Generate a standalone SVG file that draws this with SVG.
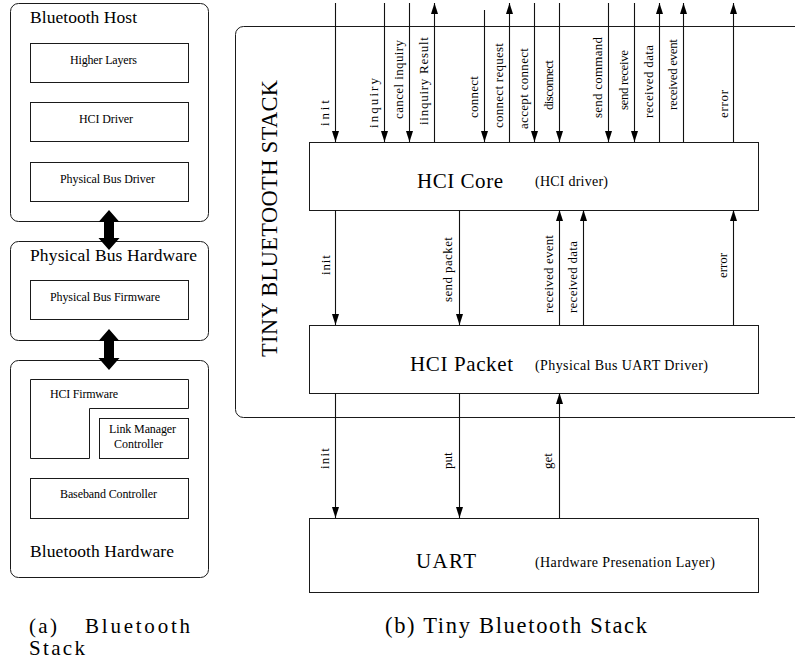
<svg xmlns="http://www.w3.org/2000/svg" width="795" height="662" viewBox="0 0 795 662" font-family="'Liberation Serif', 'Times New Roman', Times, 'DejaVu Serif', serif">
  <style>
    .frame { fill: none; stroke: #1a1a1a; stroke-width: 1; }
    .box { fill: #fff; stroke: #1a1a1a; stroke-width: 1; }
    .wire { fill: none; stroke: #111; stroke-width: 1.1; }
    .t { font-family: 'Liberation Serif', 'Times New Roman', Times, 'DejaVu Serif', serif; fill: #000; }
    .title { font-size: 17.5px; }
    .small { font-size: 12px; }
    .lbl { font-size: 13px; }
    .big { font-size: 21px; }
    .sub { font-size: 14px; }
    .cap { font-size: 21px; }
    .capb { font-size: 22.5px; }
  </style>
  <defs>
    <marker id="head" markerUnits="userSpaceOnUse" markerWidth="11" markerHeight="8" refX="11" refY="4" orient="auto">
      <path d="M0,0.5 L11,4 L0,7.5 z" fill="#000"/>
    </marker>
  </defs>

  <rect width="795" height="662" fill="#fff"/>

  <!-- Left: Bluetooth stack -->
  <g id="bluetooth-host">
    <rect class="frame" x="10.5" y="3.5" width="198" height="218" rx="8"/>
    <text class="t title" x="30" y="23" textLength="107">Bluetooth Host</text>
    <rect class="box" x="30.5" y="43.5" width="158" height="39"/>
    <text class="t small" x="70" y="64" textLength="67">Higher Layers</text>
    <rect class="box" x="30.5" y="102.5" width="158" height="39"/>
    <text class="t small" x="79" y="123" textLength="54">HCI Driver</text>
    <rect class="box" x="30.5" y="162.5" width="158" height="39"/>
    <text class="t small" x="60" y="183" textLength="95">Physical Bus Driver</text>
  </g>

  <g id="physical-bus-hardware">
    <rect class="frame" x="10.5" y="241.5" width="198" height="99" rx="8"/>
    <text class="t title" x="30" y="261" textLength="167">Physical Bus Hardware</text>
    <rect class="box" x="30.5" y="280.5" width="158" height="39"/>
    <text class="t small" x="50" y="301" textLength="110">Physical Bus Firmware</text>
  </g>

  <g id="bluetooth-hardware">
    <rect class="frame" x="10.5" y="360.5" width="198" height="217" rx="8"/>
    <path class="box" d="M30.5,379.5 H188.5 V408.5 H89.5 V458.5 H30.5 Z"/>
    <text class="t small" x="50" y="398" textLength="68">HCI Firmware</text>
    <rect class="box" x="99.5" y="418.5" width="89" height="40"/>
    <text class="t small" x="109" y="433" textLength="67">Link Manager</text>
    <text class="t small" x="114" y="448" textLength="49">Controller</text>
    <rect class="box" x="30.5" y="478.5" width="158" height="40"/>
    <text class="t small" x="60" y="498" textLength="97">Baseband Controller</text>
    <text class="t title" x="30" y="557" textLength="144">Bluetooth Hardware</text>
  </g>

  <!-- thick two-way links between the hardware blocks -->
  <g id="links-left">
    <polygon fill="#000" points="109,210 119.5,222 114,222 114,238 119.5,238 109,250 98.5,238 104,238 104,222 98.5,222"/>
    <polygon fill="#000" points="109,329 119.5,341 114,341 114,358 119.5,358 109,370 98.5,358 104,358 104,341 98.5,341"/>
  </g>

  <!-- Right: Tiny Bluetooth Stack -->
  <g id="tiny-stack">
    <rect class="frame" x="235.5" y="26.5" width="600" height="391" rx="8"/>
    <text class="t" font-size="22.4" transform="translate(277,357) rotate(-90)" textLength="277">TINY BLUETOOTH STACK</text>
  </g>

  <g id="hci-core">
    <rect class="box" x="309.5" y="142.5" width="449" height="68"/>
    <text class="t big" x="417" y="188" textLength="86">HCI Core</text>
    <text class="t sub" x="535" y="186" textLength="73">(HCI driver)</text>
  </g>

  <g id="hci-packet">
    <rect class="box" x="309.5" y="325.5" width="449" height="68"/>
    <text class="t big" x="410" y="371" textLength="103">HCI Packet</text>
    <text class="t sub" x="535" y="370" textLength="173">(Physical Bus UART Driver)</text>
  </g>

  <g id="uart">
    <rect class="box" x="309.5" y="518.5" width="449" height="74"/>
    <text class="t big" x="416" y="568" textLength="60">UART</text>
    <text class="t sub" x="535" y="567" textLength="180">(Hardware Presenation Layer)</text>
  </g>

  <g id="connectors">
    <!-- upper interface of HCI Core -->
    <line class="wire" x1="335.5" y1="3" x2="335.5" y2="142" marker-end="url(#head)"/>
    <line class="wire" x1="384.5" y1="3" x2="384.5" y2="142" marker-end="url(#head)"/>
    <line class="wire" x1="409.5" y1="3" x2="409.5" y2="142" marker-end="url(#head)"/>
    <line class="wire" x1="434.5" y1="142" x2="434.5" y2="3" marker-end="url(#head)"/>
    <line class="wire" x1="484.5" y1="10" x2="484.5" y2="142" marker-end="url(#head)"/>
    <line class="wire" x1="509.5" y1="142" x2="509.5" y2="3" marker-end="url(#head)"/>
    <line class="wire" x1="534.5" y1="3" x2="534.5" y2="142" marker-end="url(#head)"/>
    <line class="wire" x1="559.5" y1="3" x2="559.5" y2="142" marker-end="url(#head)"/>
    <line class="wire" x1="608.5" y1="3" x2="608.5" y2="142" marker-end="url(#head)"/>
    <line class="wire" x1="634.5" y1="3" x2="634.5" y2="142" marker-end="url(#head)"/>
    <line class="wire" x1="659.5" y1="142" x2="659.5" y2="3" marker-end="url(#head)"/>
    <line class="wire" x1="683.5" y1="142" x2="683.5" y2="3" marker-end="url(#head)"/>
    <line class="wire" x1="733.5" y1="142" x2="733.5" y2="3" marker-end="url(#head)"/>

    <!-- HCI Core to HCI Packet -->
    <line class="wire" x1="335.5" y1="210" x2="335.5" y2="325" marker-end="url(#head)"/>
    <line class="wire" x1="459.5" y1="210" x2="459.5" y2="325" marker-end="url(#head)"/>
    <line class="wire" x1="559.5" y1="325" x2="559.5" y2="210" marker-end="url(#head)"/>
    <line class="wire" x1="583.5" y1="325" x2="583.5" y2="210" marker-end="url(#head)"/>
    <line class="wire" x1="733.5" y1="325" x2="733.5" y2="210" marker-end="url(#head)"/>

    <!-- HCI Packet to UART -->
    <line class="wire" x1="335.5" y1="393" x2="335.5" y2="518" marker-end="url(#head)"/>
    <line class="wire" x1="459.5" y1="393" x2="459.5" y2="518" marker-end="url(#head)"/>
    <line class="wire" x1="559.5" y1="518" x2="559.5" y2="393" marker-end="url(#head)"/>

    <!-- connector labels -->
    <g class="t lbl">
      <text transform="translate(329,126) rotate(-90)" textLength="26">init</text>
      <text transform="translate(378,128) rotate(-90)" textLength="50">inquiry</text>
      <text transform="translate(403,119) rotate(-90)" textLength="79">cancel inquiry</text>
      <text transform="translate(428,125) rotate(-90)" textLength="88">iinquiry Result</text>
      <text transform="translate(478,118) rotate(-90)" textLength="42">connect</text>
      <text transform="translate(503,128) rotate(-90)" textLength="85">connect request</text>
      <text transform="translate(528,129) rotate(-90)" textLength="81">accept connect</text>
      <text transform="translate(553,110) rotate(-90)" textLength="50">disconnect</text>
      <text transform="translate(602,118) rotate(-90)" textLength="81">send command</text>
      <text transform="translate(628,110) rotate(-90)" textLength="60">send receive</text>
      <text transform="translate(653,118) rotate(-90)" textLength="73">received data</text>
      <text transform="translate(677,110) rotate(-90)" textLength="71">received event</text>
      <text transform="translate(728,118) rotate(-90)" textLength="28">error</text>

      <text transform="translate(330,275) rotate(-90)" textLength="20">init</text>
      <text transform="translate(452,302) rotate(-90)" textLength="65">send packet</text>
      <text transform="translate(553,313) rotate(-90)" textLength="78">received event</text>
      <text transform="translate(577,313) rotate(-90)" textLength="72">received data</text>
      <text transform="translate(727,278) rotate(-90)" textLength="25">error</text>

      <text transform="translate(329,469) rotate(-90)" textLength="21">init</text>
      <text transform="translate(452,469) rotate(-90)">put</text>
      <text transform="translate(552,469) rotate(-90)">get</text>
    </g>
  </g>

  <!-- sub-figure captions -->
  <g id="captions">
    <text class="t cap" x="29" y="633" textLength="28">(a)</text>
    <text class="t cap" x="85" y="633" textLength="105">Bluetooth</text>
    <text class="t cap" x="29" y="655" textLength="56">Stack</text>
    <text class="t capb" x="385" y="633" textLength="262">(b) Tiny Bluetooth Stack</text>
  </g>
</svg>
